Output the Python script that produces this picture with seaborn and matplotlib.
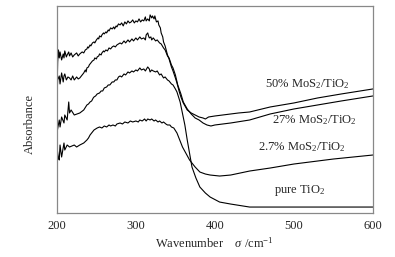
import numpy as np
import pandas as pd
import matplotlib
matplotlib.use("Agg")
import matplotlib.pyplot as plt
import seaborn as sns

# wavenumber / absorbance (a.u.)
wn_50 = [200, 201, 202, 203, 204, 206, 208, 209, 210, 212, 213, 215, 216, 218, 220, 222, 225, 227, 229, 232,
         234, 236, 238, 239, 240, 242, 243, 245, 247, 248, 250, 252, 253, 254, 256, 257, 259, 260, 262, 263,
         265, 266, 268, 270, 272, 273, 275, 276, 278, 280, 282, 284, 286, 288, 290, 292, 294, 296, 298, 300,
         302, 304, 306, 308, 310, 312, 313, 315, 317, 318, 320, 321, 323, 324, 326, 328, 329, 331, 332, 334,
         335, 337, 340, 342, 345, 347, 350, 352, 355, 357, 360, 365, 370, 375, 380, 385, 388, 392, 400, 410,
         420, 430, 444, 470, 500, 530, 560, 600]
ab_50 = [1.15, 1.51, 1.63, 1.55, 1.61, 1.53, 1.59, 1.55, 1.62, 1.56, 1.58, 1.61, 1.57, 1.60, 1.56, 1.58, 1.60, 1.57, 1.59, 1.61,
         1.60, 1.63, 1.64, 1.66, 1.65, 1.68, 1.67, 1.70, 1.71, 1.70, 1.73, 1.75, 1.74, 1.77, 1.76, 1.78, 1.80, 1.79, 1.81, 1.80,
         1.83, 1.82, 1.85, 1.84, 1.86, 1.84, 1.87, 1.86, 1.89, 1.88, 1.90, 1.87, 1.91, 1.89, 1.92, 1.90, 1.91, 1.93, 1.90, 1.92,
         1.91, 1.94, 1.91, 1.93, 1.92, 1.96, 1.92, 1.94, 1.92, 1.98, 1.95, 1.97, 1.94, 1.97, 1.91, 1.92, 1.88, 1.85, 1.80, 1.76,
         1.71, 1.67, 1.58, 1.54, 1.46, 1.42, 1.35, 1.30, 1.21, 1.16, 1.10, 1.03, 1.00, 0.98, 0.96, 0.95, 0.94, 0.96, 0.97, 0.98,
         0.99, 1.00, 1.01, 1.06, 1.10, 1.15, 1.19, 1.24]

wn_27 = [200, 201, 203, 204, 206, 208, 209, 210, 212, 214, 216, 218, 220, 222, 225, 227, 229, 232, 234, 236,
         237, 238, 240, 241, 242, 244, 245, 247, 248, 250, 251, 253, 254, 256, 257, 259, 260, 262, 264, 266,
         268, 270, 272, 274, 276, 278, 280, 282, 285, 287, 290, 292, 295, 297, 300, 302, 305, 307, 310, 312,
         313, 315, 316, 317, 319, 320, 322, 325, 327, 330, 332, 335, 337, 340, 342, 345, 347, 350, 353, 357,
         360, 365, 370, 375, 380, 385, 390, 395, 400, 410, 420, 444, 470, 500, 530, 560, 600]
ab_27 = [1.15, 1.33, 1.37, 1.29, 1.40, 1.31, 1.37, 1.39, 1.33, 1.36, 1.35, 1.33, 1.37, 1.33, 1.36, 1.34, 1.35, 1.38, 1.40, 1.43,
         1.41, 1.45, 1.46, 1.48, 1.49, 1.51, 1.52, 1.53, 1.55, 1.54, 1.56, 1.57, 1.59, 1.58, 1.60, 1.62, 1.61, 1.63, 1.62, 1.65,
         1.64, 1.66, 1.67, 1.66, 1.68, 1.69, 1.70, 1.69, 1.72, 1.70, 1.73, 1.71, 1.74, 1.72, 1.75, 1.73, 1.76, 1.74, 1.75, 1.73,
         1.78, 1.80, 1.77, 1.75, 1.76, 1.73, 1.75, 1.72, 1.73, 1.70, 1.69, 1.65, 1.63, 1.57, 1.55, 1.48, 1.45, 1.38, 1.28, 1.19,
         1.11, 1.04, 0.99, 0.95, 0.93, 0.90, 0.88, 0.87, 0.88, 0.89, 0.90, 0.93, 0.99, 1.04, 1.08, 1.12, 1.17]

wn_pure = [200, 203, 204, 206, 209, 210, 213, 215, 216, 218, 222, 229, 234, 238, 240, 242, 244, 246, 247, 249,
           251, 254, 256, 258, 260, 263, 265, 267, 270, 272, 274, 276, 278, 280, 282, 285, 287, 290, 292, 295,
           297, 300, 302, 305, 307, 310, 312, 315, 317, 318, 320, 322, 325, 327, 330, 332, 335, 337, 340, 342,
           345, 347, 350, 352, 356, 362, 365, 371, 376, 381, 388, 394, 406, 420, 444, 500, 600]
ab_pure = [0.80, 0.93, 0.86, 0.96, 0.90, 0.98, 0.93, 1.11, 1.00, 1.03, 0.98, 1.00, 1.03, 1.08, 1.09, 1.11, 1.12, 1.15, 1.16, 1.17,
           1.19, 1.20, 1.22, 1.22, 1.25, 1.26, 1.28, 1.28, 1.31, 1.31, 1.33, 1.33, 1.36, 1.37, 1.36, 1.39, 1.38, 1.41, 1.40, 1.42,
           1.41, 1.43, 1.42, 1.45, 1.43, 1.44, 1.42, 1.46, 1.44, 1.41, 1.43, 1.42, 1.41, 1.42, 1.38, 1.39, 1.35, 1.36, 1.33, 1.32,
           1.29, 1.28, 1.24, 1.21, 1.11, 0.88, 0.73, 0.46, 0.35, 0.26, 0.20, 0.16, 0.11, 0.09, 0.06, 0.06, 0.06]

wn_2_7 = [200, 202, 203, 204, 206, 209, 210, 213, 216, 222, 225, 229, 234, 238, 240, 242, 244, 247, 249, 251,
          254, 257, 260, 263, 266, 268, 271, 274, 276, 280, 283, 286, 290, 293, 296, 300, 303, 305, 308, 311,
          313, 315, 318, 320, 323, 325, 328, 330, 333, 335, 338, 340, 343, 345, 348, 352, 359, 368, 375, 381,
          388, 394, 406, 420, 444, 470, 500, 550, 600]
ab_2_7 = [0.66, 0.55, 0.53, 0.68, 0.56, 0.70, 0.63, 0.68, 0.66, 0.68, 0.66, 0.68, 0.70, 0.73, 0.75, 0.78, 0.80, 0.83, 0.84, 0.85,
          0.86, 0.85, 0.87, 0.86, 0.88, 0.87, 0.88, 0.87, 0.89, 0.90, 0.89, 0.91, 0.90, 0.92, 0.91, 0.92, 0.91, 0.93, 0.92, 0.94,
          0.92, 0.94, 0.93, 0.94, 0.92, 0.93, 0.91, 0.92, 0.90, 0.91, 0.89, 0.88, 0.88, 0.86, 0.85, 0.80, 0.66, 0.53, 0.46, 0.41,
          0.39, 0.38, 0.37, 0.38, 0.42, 0.45, 0.49, 0.54, 0.58]

labels = ["50% MoS$_2$/TiO$_2$", "27% MoS$_2$/TiO$_2$", "2.7% MoS$_2$/TiO$_2$", "pure TiO$_2$"]

frames = []
for name, w, a in zip(labels, [wn_50, wn_27, wn_2_7, wn_pure], [ab_50, ab_27, ab_2_7, ab_pure]):
    frames.append(pd.DataFrame({"wn": w, "abs": a, "sample": name}))
df = pd.concat(frames, ignore_index=True)

sns.set_style("white")
plt.rcParams["font.family"] = ["Liberation Serif", "DejaVu Serif"]
plt.rcParams["mathtext.fontset"] = "custom"
plt.rcParams["mathtext.rm"] = "Liberation Serif"
plt.rcParams["mathtext.it"] = "Liberation Serif:italic"

fig = plt.figure(figsize=(3.95, 2.57), dpi=100)
ax = fig.add_axes([0.144, 0.171, 0.8, 0.806])
sns.lineplot(data=df, x="wn", y="abs", units="sample", estimator=None, sort=False,
             color="black", linewidth=0.8, ax=ax)

ax.set_xlim(200, 600)
ax.set_ylim(0, 2.07)
ax.set_xticks([200, 300, 400, 500, 600])
ax.set_xticks([250, 350, 450, 550], minor=True)
ax.tick_params(axis="x", which="both", direction="in", length=3.5, width=0.8,
               color="#777777", labelsize=9, pad=5)
ax.set_yticks([])
for s in ax.spines.values():
    s.set_color("#888888")
    s.set_linewidth(0.9)

ax.set_xlabel("Wavenumber    $\\mathit{\\sigma}$ /cm$^{-1}$", fontsize=9, labelpad=3)
ax.set_ylabel("Absorbance", fontsize=9)
ax.yaxis.set_label_coords(-0.065, 0.43)

pos = [(463, 1.26), (472, 0.895), (454, 0.63), (475, 0.20)]
for lab, (x, y) in zip(labels, pos):
    ax.text(x, y, lab, fontsize=9, ha="left", va="baseline")

fig.savefig("out.png", dpi=100)
